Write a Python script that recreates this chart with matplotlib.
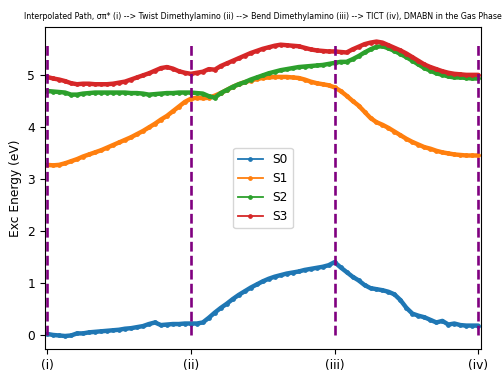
import matplotlib
matplotlib.use("Agg")
import matplotlib.pyplot as plt
from matplotlib.lines import Line2D
import numpy as np

title = "Interpolated Path, σπ* (i) --> Twist Dimethylamino (ii) --> Bend Dimethylamino (iii) --> TICT (iv), DMABN in the Gas Phase"
tick_labels = ["(i)", "(ii)", "(iii)", "(iv)"]
series_names = ["S0", "S1", "S2", "S3"]
points_per_segment = 24

S0 = [0.02, 0.00, -0.01, -0.02, -0.01, 0.03, 0.03, 0.05, 0.06, 0.07, 0.08, 0.09,
      0.10, 0.12, 0.13, 0.15, 0.17, 0.21, 0.24, 0.19, 0.20, 0.21, 0.21, 0.22,
      0.22, 0.22, 0.24, 0.33, 0.43, 0.52, 0.60, 0.69, 0.77, 0.84, 0.91, 0.97,
      1.03, 1.08, 1.12, 1.15, 1.18, 1.20, 1.22, 1.25, 1.27, 1.29, 1.31, 1.34,
      1.40, 1.30, 1.21, 1.12, 1.05, 0.96, 0.90, 0.88, 0.86, 0.83, 0.78, 0.67,
      0.52, 0.41, 0.37, 0.34, 0.29, 0.24, 0.27, 0.20, 0.22, 0.19, 0.18, 0.18, 0.18]

S1 = [3.27, 3.26, 3.27, 3.30, 3.34, 3.38, 3.43, 3.47, 3.51, 3.55, 3.60, 3.65,
      3.70, 3.75, 3.80, 3.86, 3.92, 3.99, 4.06, 4.14, 4.21, 4.30, 4.39, 4.48,
      4.54, 4.56, 4.55, 4.56, 4.60, 4.65, 4.71, 4.77, 4.82, 4.86, 4.89, 4.92,
      4.94, 4.95, 4.96, 4.96, 4.96, 4.95, 4.94, 4.91, 4.87, 4.84, 4.82, 4.80,
      4.76, 4.69, 4.60, 4.50, 4.41, 4.29, 4.17, 4.09, 4.04, 3.98, 3.91, 3.84,
      3.77, 3.71, 3.66, 3.61, 3.58, 3.54, 3.51, 3.49, 3.47, 3.46, 3.45, 3.45, 3.45]

S2 = [4.69, 4.68, 4.67, 4.66, 4.62, 4.62, 4.64, 4.65, 4.66, 4.66, 4.66, 4.66,
      4.66, 4.66, 4.65, 4.65, 4.64, 4.62, 4.63, 4.64, 4.65, 4.65, 4.66, 4.66,
      4.66, 4.65, 4.64, 4.59, 4.56, 4.65, 4.71, 4.77, 4.82, 4.86, 4.91, 4.95,
      4.99, 5.03, 5.06, 5.09, 5.11, 5.13, 5.15, 5.16, 5.17, 5.18, 5.19, 5.21,
      5.23, 5.25, 5.25, 5.30, 5.36, 5.43, 5.49, 5.54, 5.55, 5.51, 5.46, 5.40,
      5.34, 5.27, 5.20, 5.13, 5.08, 5.03, 5.00, 4.97, 4.95, 4.95, 4.94, 4.93, 4.93]

S3 = [4.96, 4.93, 4.91, 4.88, 4.84, 4.82, 4.83, 4.83, 4.82, 4.82, 4.82, 4.83,
      4.85, 4.87, 4.91, 4.95, 4.99, 5.03, 5.08, 5.13, 5.15, 5.12, 5.07, 5.04,
      5.02, 5.04, 5.06, 5.11, 5.10, 5.17, 5.22, 5.27, 5.32, 5.37, 5.42, 5.46,
      5.50, 5.53, 5.56, 5.58, 5.57, 5.56, 5.55, 5.52, 5.49, 5.47, 5.46, 5.45,
      5.45, 5.44, 5.43, 5.49, 5.54, 5.59, 5.62, 5.64, 5.62, 5.57, 5.52, 5.47,
      5.41, 5.34, 5.27, 5.20, 5.15, 5.11, 5.07, 5.04, 5.02, 5.01, 5.00, 5.00, 5.00]

vline_top = 5.6

colors = ["#1f77b4", "#ff7f0e", "#2ca02c", "#d62728"]

fig = plt.figure(figsize=(5.03, 3.71), dpi=100)
ax = fig.add_axes([45 / 503, 22 / 371, 436 / 503, 322 / 371])

x = np.arange(len(S0))
for y, c, name in zip([S0, S1, S2, S3], colors, series_names):
    ax.plot(x, y, color=c, lw=3.2, marker=".", ms=5.0, mew=0.9, label=name,
            solid_capstyle="round", solid_joinstyle="round")

tick_pos = [i * points_per_segment for i in range(len(tick_labels))]
ax.vlines(tick_pos, 0, vline_top, colors="purple", linestyles="--", lw=1.9)

ax.set_xticks(tick_pos)
ax.set_xticklabels(tick_labels, fontsize=8.8)
ax.tick_params(axis="y", labelsize=8.8)
ax.set_xlim(-0.35, tick_pos[-1] + 0.45)
ax.set_ylim(-0.27, 5.92)
ax.set_ylabel("Exc Energy (eV)", fontsize=8.8)
ax.set_title(title, fontsize=5.65)

handles = [Line2D([], [], color=c, lw=1.3, marker=".", ms=5.0, mew=0.9) for c in colors]
ax.legend(handles, series_names, loc="center", fontsize=8.8)

fig.savefig("out.png", dpi=100)
